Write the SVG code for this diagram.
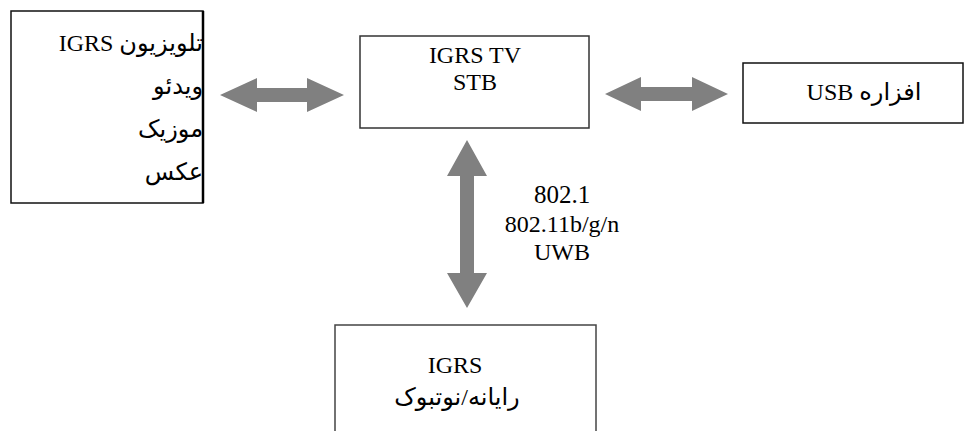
<svg xmlns="http://www.w3.org/2000/svg" width="964" height="431" viewBox="0 0 964 431">
<style>
.box{fill:#fff;stroke:#111;stroke-width:1.5}
.t{font-family:"Liberation Serif","DejaVu Sans",serif;font-size:24px;fill:#000}
.rtl{direction:rtl;unicode-bidi:embed}
.arr{fill:#808080}
</style>
<rect width="964" height="431" fill="#fff"/>
<g id="connectors">
<polygon class="arr" points="220,95 257,78 257,88 307,88 307,78 344,95 307,112 307,102 257,102 257,112"/>
<polygon class="arr" points="605,94 641,77 641,87 692,87 692,77 728,94 692,111 692,101 641,101 641,111"/>
<polygon class="arr" points="467,140 487,176 474,176 474,273 487,273 467,308 447,273 460,273 460,176 447,176"/>
<g id="link-label">
<text class="t" x="562" y="203" text-anchor="middle" style="font-size:25px">802.1</text>
<text class="t" x="562" y="232" text-anchor="middle">802.11b/g/n</text>
<text class="t" x="562" y="260" text-anchor="middle">UWB</text>
</g>
</g>
<g id="node-tv">
<rect class="box" x="11" y="11" width="192" height="192"/>
<line x1="203" y1="11" x2="203" y2="203" stroke="#000" stroke-width="2.5"/>
<text class="t rtl" x="203" y="51" text-anchor="start">تلویزیون IGRS</text>
<text class="t rtl" x="203" y="94" text-anchor="start">ویدئو</text>
<text class="t rtl" x="203" y="137" text-anchor="start">موزیک</text>
<text class="t rtl" x="203" y="180" text-anchor="start">عکس</text>
</g>
<g id="node-stb">
<rect class="box" x="360" y="36" width="229" height="92" style="stroke:#333"/>
<text class="t" x="475" y="63" text-anchor="middle">IGRS TV</text>
<text class="t" x="475" y="90" text-anchor="middle">STB</text>
</g>
<g id="node-usb">
<rect class="box" x="743" y="63" width="220" height="60"/>
<text class="t rtl" x="864" y="100" text-anchor="middle">افزاره USB</text>
</g>
<g id="node-pc">
<rect class="box" x="335" y="325" width="261" height="120" style="stroke:#444"/>
<text class="t" x="455" y="373" text-anchor="middle">IGRS</text>
<text class="t rtl" x="457" y="405" text-anchor="middle">رایانه/نوتبوک</text>
</g>
</svg>
